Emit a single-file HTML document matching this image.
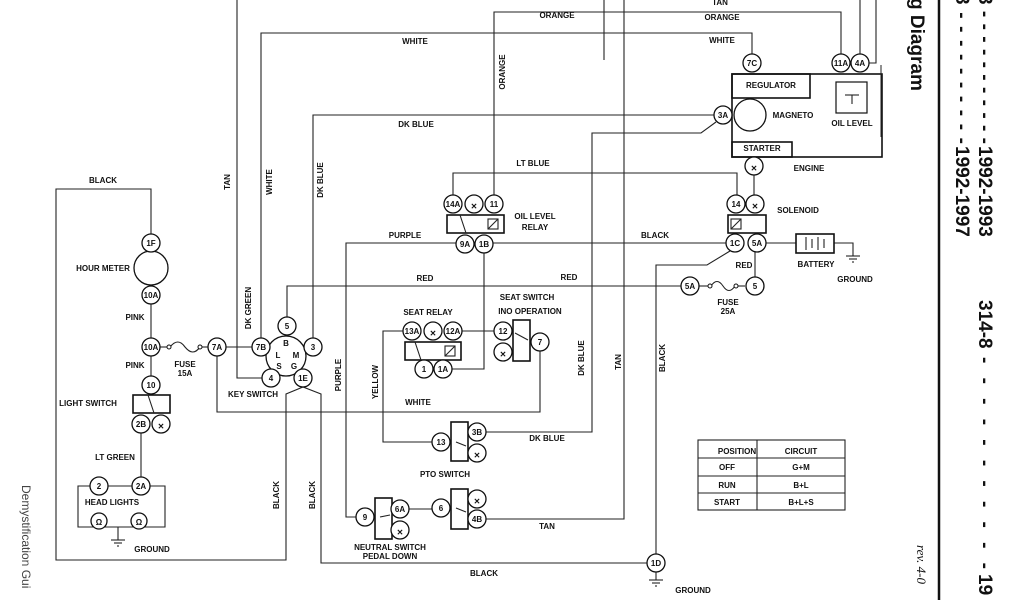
<!DOCTYPE html>
<html><head><meta charset="utf-8"><style>
html,body{margin:0;padding:0;background:#fff;overflow:hidden;}
svg{display:block;}
text{font-family:"Liberation Sans",sans-serif;font-weight:bold;font-size:8px;fill:#111;}
.c{fill:#fff;stroke:#111;stroke-width:1.3;}
.w{fill:none;stroke:#222;stroke-width:1.1;}
.b{fill:none;stroke:#111;stroke-width:1.6;}
.side{font-size:19px;}
</style></head><body>
<svg width="1024" height="600" viewBox="0 0 1024 600" xmlns="http://www.w3.org/2000/svg">
<rect width="1024" height="600" fill="#fff"/>
<g class="w">
<polyline points="237,0 237,378 262,378"/>
<polyline points="261,338 261,33 752,33 752,54"/>
<polyline points="494,195 494,12 841,12 841,54"/>
<polyline points="860,54 860,0"/>
<polyline points="869,63 876,63 876,0"/>
<line x1="604" y1="0" x2="604" y2="60"/>
<polyline points="313,338 313,115 714,115"/>
<polyline points="716,122 701,133 592,133 592,432 486,432"/>
<polyline points="624,0 624,519 486,519"/>
<polyline points="453,195 453,173 737,173 737,195"/>
<line x1="754" y1="157" x2="754" y2="195"/>
<polyline points="456,243 346,243 346,517 356,517"/>
<line x1="493" y1="243" x2="726" y2="243"/>
<polyline points="484,253 484,369 452,369"/>
<polyline points="730,251 707,265 656,265 656,554"/>
<line x1="766" y1="243" x2="796" y2="243"/>
<polyline points="834,243 853,243 853,256"/>
<line x1="755" y1="252" x2="755" y2="277"/>
<polyline points="287,317 287,286 681,286"/>
<line x1="699" y1="286" x2="708" y2="286"/>
<line x1="737" y1="286" x2="745" y2="286"/>
<line x1="462" y1="331" x2="494" y2="331"/>
<polyline points="403,331 383,331 383,442 432,442"/>
<polyline points="540,351 540,412 217,412 217,356"/>
<line x1="409" y1="509" x2="432" y2="509"/>
<polyline points="647,563 321,563 321,394 303,387 286,394 286,560 56,560 56,189 151,189 151,234"/>
<line x1="151" y1="252" x2="151" y2="286"/>
<line x1="151" y1="304" x2="151" y2="376"/>
<line x1="160" y1="347" x2="167" y2="347"/>
<line x1="200" y1="347" x2="208" y2="347"/>
<line x1="226" y1="347" x2="252" y2="347"/>
<line x1="141" y1="433" x2="141" y2="477"/>
<line x1="108" y1="486" x2="132" y2="486"/>
<polyline points="90,486 78,486 78,527 165,527 165,486 150,486"/>
<line x1="118" y1="527" x2="118" y2="540"/>
<line x1="656" y1="572" x2="656" y2="580"/>
</g>
<g class="w">
<path d="M170,347 q8,-10 15,0 q8,10 15,0" />
<path d="M711,286 q6,-9 12,0 q6,9 12,0"/>
</g>
<g fill="#fff" stroke="#111"><circle cx="169" cy="347" r="2"/><circle cx="200" cy="347" r="2"/><circle cx="710" cy="286" r="2"/><circle cx="736" cy="286" r="2"/></g>
<g class="w">
<line x1="846" y1="256" x2="860" y2="256"/><line x1="849" y1="259" x2="857" y2="259"/><line x1="852" y1="262" x2="854" y2="262"/>
<line x1="111" y1="540" x2="125" y2="540"/><line x1="114" y1="543" x2="122" y2="543"/><line x1="117" y1="546" x2="119" y2="546"/>
<line x1="649" y1="580" x2="663" y2="580"/><line x1="652" y1="583" x2="660" y2="583"/><line x1="655" y1="586" x2="657" y2="586"/>
</g>
<g class="b">
<rect x="732" y="74" width="150" height="83"/>
<rect x="732" y="74" width="78" height="24"/>
<rect x="732" y="142" width="60" height="15"/>
<rect x="836" y="82" width="31" height="31" stroke-width="1.2"/>
<rect x="728" y="215" width="38" height="18"/>
<rect x="796" y="234" width="38" height="19"/>
<rect x="447" y="215" width="57" height="18"/>
<rect x="405" y="342" width="56" height="18"/>
<rect x="513" y="320" width="17" height="41"/>
<rect x="451" y="422" width="17" height="39"/>
<rect x="451" y="489" width="17" height="40"/>
<rect x="375" y="498" width="17" height="41"/>
<rect x="133" y="395" width="37" height="18"/>
</g>
<circle cx="750" cy="115" r="16" class="c"/>
<circle cx="151" cy="268" r="17" class="c" stroke-width="1.8"/>
<circle cx="286" cy="356" r="20" class="c" stroke-width="1.8"/>
<g class="w">
<rect x="488" y="219" width="10" height="10"/><line x1="488" y1="229" x2="498" y2="219"/>
<rect x="445" y="346" width="10" height="10"/><line x1="445" y1="356" x2="455" y2="346"/>
<rect x="731" y="219" width="10" height="10"/><line x1="731" y1="229" x2="741" y2="219"/>
<line x1="806" y1="237" x2="806" y2="250"/><line x1="812" y1="239" x2="812" y2="248"/><line x1="818" y1="237" x2="818" y2="250"/><line x1="824" y1="239" x2="824" y2="248"/>
<line x1="845" y1="95" x2="859" y2="95"/><line x1="852" y1="95" x2="852" y2="104"/>
<line x1="460" y1="215" x2="466" y2="233"/>
<line x1="415" y1="342" x2="421" y2="360"/>
<line x1="148" y1="395" x2="154" y2="413"/>
<line x1="456" y1="442" x2="466" y2="446"/>
<line x1="456" y1="508" x2="466" y2="512"/>
<line x1="380" y1="517" x2="390" y2="515"/>
<line x1="515" y1="333" x2="528" y2="340"/>
</g>
<g class="c" stroke-width="1.6"><circle cx="99" cy="521" r="8"/><circle cx="139" cy="521" r="8"/></g>
<text x="99" y="525" text-anchor="middle" font-size="9">Ω</text>
<text x="139" y="525" text-anchor="middle" font-size="9">Ω</text>
<g class="c">
<circle cx="752" cy="63" r="9"/><circle cx="841" cy="63" r="9"/><circle cx="860" cy="63" r="9"/>
<circle cx="723" cy="115" r="9"/><circle cx="754" cy="166" r="9"/>
<circle cx="736" cy="204" r="9"/><circle cx="755" cy="204" r="9"/>
<circle cx="735" cy="243" r="9"/><circle cx="757" cy="243" r="9"/>
<circle cx="690" cy="286" r="9"/><circle cx="755" cy="286" r="9"/>
<circle cx="453" cy="204" r="9"/><circle cx="474" cy="204" r="9"/><circle cx="494" cy="204" r="9"/>
<circle cx="465" cy="244" r="9"/><circle cx="484" cy="244" r="9"/>
<circle cx="412" cy="331" r="9"/><circle cx="433" cy="331" r="9"/><circle cx="453" cy="331" r="9"/>
<circle cx="424" cy="369" r="9"/><circle cx="443" cy="369" r="9"/>
<circle cx="503" cy="331" r="9"/><circle cx="503" cy="352" r="9"/><circle cx="540" cy="342" r="9"/>
<circle cx="441" cy="442" r="9"/><circle cx="477" cy="432" r="9"/><circle cx="477" cy="453" r="9"/>
<circle cx="441" cy="508" r="9"/><circle cx="477" cy="499" r="9"/><circle cx="477" cy="519" r="9"/>
<circle cx="365" cy="517" r="9"/><circle cx="400" cy="509" r="9"/><circle cx="400" cy="530" r="9"/>
<circle cx="656" cy="563" r="9"/>
<circle cx="151" cy="243" r="9"/><circle cx="151" cy="295" r="9"/><circle cx="151" cy="347" r="9"/><circle cx="151" cy="385" r="9"/>
<circle cx="141" cy="424" r="9"/><circle cx="161" cy="424" r="9"/>
<circle cx="99" cy="486" r="9"/><circle cx="141" cy="486" r="9"/>
<circle cx="217" cy="347" r="9"/><circle cx="261" cy="347" r="9"/>
<circle cx="287" cy="326" r="9"/><circle cx="313" cy="347" r="9"/><circle cx="271" cy="378" r="9"/><circle cx="303" cy="378" r="9"/>
</g>
<g text-anchor="middle">
<text x="754" y="171" font-size="13">✕</text>
<text x="755" y="209" font-size="13">✕</text>
<text x="474" y="209" font-size="13">✕</text>
<text x="433" y="336" font-size="13">✕</text>
<text x="503" y="357" font-size="13">✕</text>
<text x="477" y="458" font-size="13">✕</text>
<text x="477" y="504" font-size="13">✕</text>
<text x="400" y="535" font-size="13">✕</text>
<text x="161" y="429" font-size="13">✕</text>
</g>
<g text-anchor="middle" font-size="7">
<text x="752" y="66">7C</text><text x="841" y="66">11A</text><text x="860" y="66">4A</text>
<text x="723" y="118">3A</text>
<text x="736" y="207">14</text><text x="735" y="246">1C</text><text x="757" y="246">5A</text>
<text x="690" y="289">5A</text><text x="755" y="289">5</text>
<text x="453" y="207">14A</text><text x="494" y="207">11</text>
<text x="465" y="247">9A</text><text x="484" y="247">1B</text>
<text x="412" y="334">13A</text><text x="453" y="334">12A</text>
<text x="424" y="372">1</text><text x="443" y="372">1A</text>
<text x="503" y="334">12</text><text x="540" y="345">7</text>
<text x="441" y="445">13</text><text x="477" y="435">3B</text>
<text x="441" y="511">6</text><text x="477" y="522">4B</text>
<text x="365" y="520">9</text><text x="400" y="512">6A</text>
<text x="656" y="566">1D</text>
<text x="151" y="246">1F</text><text x="151" y="298">10A</text><text x="151" y="350">10A</text><text x="151" y="388">10</text>
<text x="141" y="427">2B</text><text x="99" y="489">2</text><text x="141" y="489">2A</text>
<text x="217" y="350">7A</text><text x="261" y="350">7B</text>
<text x="287" y="329">5</text><text x="313" y="350">3</text><text x="271" y="381">4</text><text x="303" y="381">1E</text>
<text x="286" y="346">B</text><text x="278" y="358">L</text><text x="296" y="358">M</text><text x="279" y="369">S</text><text x="294" y="369">G</text>
</g>
<g text-anchor="middle">
<text x="720" y="5">TAN</text>
<text x="557" y="18">ORANGE</text><text x="722" y="20">ORANGE</text>
<text x="415" y="44">WHITE</text><text x="722" y="43">WHITE</text>
<text x="416" y="127">DK BLUE</text>
<text x="533" y="166">LT BLUE</text>
<text x="405" y="238">PURPLE</text><text x="655" y="238">BLACK</text>
<text x="425" y="281">RED</text><text x="569" y="280">RED</text><text x="744" y="268">RED</text>
<text x="771" y="88">REGULATOR</text><text x="793" y="118">MAGNETO</text><text x="852" y="126">OIL LEVEL</text>
<text x="762" y="151">STARTER</text><text x="809" y="171">ENGINE</text>
<text x="798" y="213">SOLENOID</text>
<text x="816" y="267">BATTERY</text><text x="855" y="282">GROUND</text>
<text x="728" y="305">FUSE</text><text x="728" y="314">25A</text>
<text x="535" y="219" font-weight="normal">OIL LEVEL</text><text x="535" y="230" font-weight="normal">RELAY</text>
<text x="527" y="300">SEAT SWITCH</text><text x="530" y="314">INO OPERATION</text>
<text x="428" y="315">SEAT RELAY</text>
<text x="418" y="405">WHITE</text>
<text x="547" y="441">DK BLUE</text>
<text x="445" y="477">PTO SWITCH</text>
<text x="547" y="529">TAN</text>
<text x="390" y="550">NEUTRAL SWITCH</text><text x="390" y="559">PEDAL DOWN</text>
<text x="484" y="576">BLACK</text>
<text x="693" y="593">GROUND</text>
<text x="103" y="183">BLACK</text>
<text x="103" y="271">HOUR METER</text>
<text x="135" y="320">PINK</text><text x="135" y="368">PINK</text>
<text x="185" y="367">FUSE</text><text x="185" y="376">15A</text>
<text x="253" y="397">KEY SWITCH</text>
<text x="88" y="406">LIGHT SWITCH</text>
<text x="115" y="460">LT GREEN</text>
<text x="112" y="505">HEAD LIGHTS</text>
<text x="152" y="552">GROUND</text>
<text x="737" y="454">POSITION</text><text x="801" y="454">CIRCUIT</text>
<text x="727" y="470">OFF</text><text x="801" y="470">G+M</text>
<text x="727" y="488">RUN</text><text x="801" y="488">B+L</text>
<text x="727" y="505">START</text><text x="801" y="505">B+L+S</text>
</g>
<g text-anchor="middle">
<text transform="translate(230,182) rotate(-90)">TAN</text>
<text transform="translate(272,182) rotate(-90)">WHITE</text>
<text transform="translate(323,180) rotate(-90)">DK BLUE</text>
<text transform="translate(505,72) rotate(-90)">ORANGE</text>
<text transform="translate(251,308) rotate(-90)">DK GREEN</text>
<text transform="translate(341,375) rotate(-90)">PURPLE</text>
<text transform="translate(378,382) rotate(-90)">YELLOW</text>
<text transform="translate(584,358) rotate(-90)">DK BLUE</text>
<text transform="translate(621,362) rotate(-90)">TAN</text>
<text transform="translate(665,358) rotate(-90)">BLACK</text>
<text transform="translate(279,495) rotate(-90)">BLACK</text>
<text transform="translate(315,495) rotate(-90)">BLACK</text>
</g>
<g class="w" stroke-width="1.2">
<rect x="698" y="440" width="147" height="70"/>
<line x1="757" y1="440" x2="757" y2="510"/>
<line x1="698" y1="458" x2="845" y2="458"/><line x1="698" y1="476" x2="845" y2="476"/><line x1="698" y1="493" x2="845" y2="493"/>
</g>
<line x1="939" y1="0" x2="939" y2="600" stroke="#111" stroke-width="2.5"/>
<line x1="881" y1="65" x2="881" y2="137" stroke="#222" stroke-width="1"/>
<text class="side" transform="translate(911,-2) rotate(90)" font-size="17">g Diagram</text>
<text class="side" transform="translate(979,-6) rotate(90)" textLength="150" lengthAdjust="spacing">3 - - - - - - - - - - -</text>
<text class="side" transform="translate(979,146) rotate(90)">1992-1993</text>
<text class="side" transform="translate(956,-6) rotate(90)" textLength="150" lengthAdjust="spacing">3 - - - - - - - - - -</text>
<text class="side" transform="translate(956,146) rotate(90)">1992-1997</text>
<text class="side" transform="translate(979,300) rotate(90)">314-8</text>
<text class="side" transform="translate(979,357) rotate(90)" textLength="212" lengthAdjust="spacing">- - - - - - - - - - -</text>
<text class="side" transform="translate(979,574) rotate(90)">19</text>
<text transform="translate(917,545) rotate(90)" style="font-family:'Liberation Serif',serif;font-style:italic;font-weight:normal;font-size:13px">rev. 4-0</text>
<text transform="translate(22,485) rotate(90)" style="font-weight:normal;font-size:12px;fill:#444">Demystification Gui</text>
</svg>
</body></html>
